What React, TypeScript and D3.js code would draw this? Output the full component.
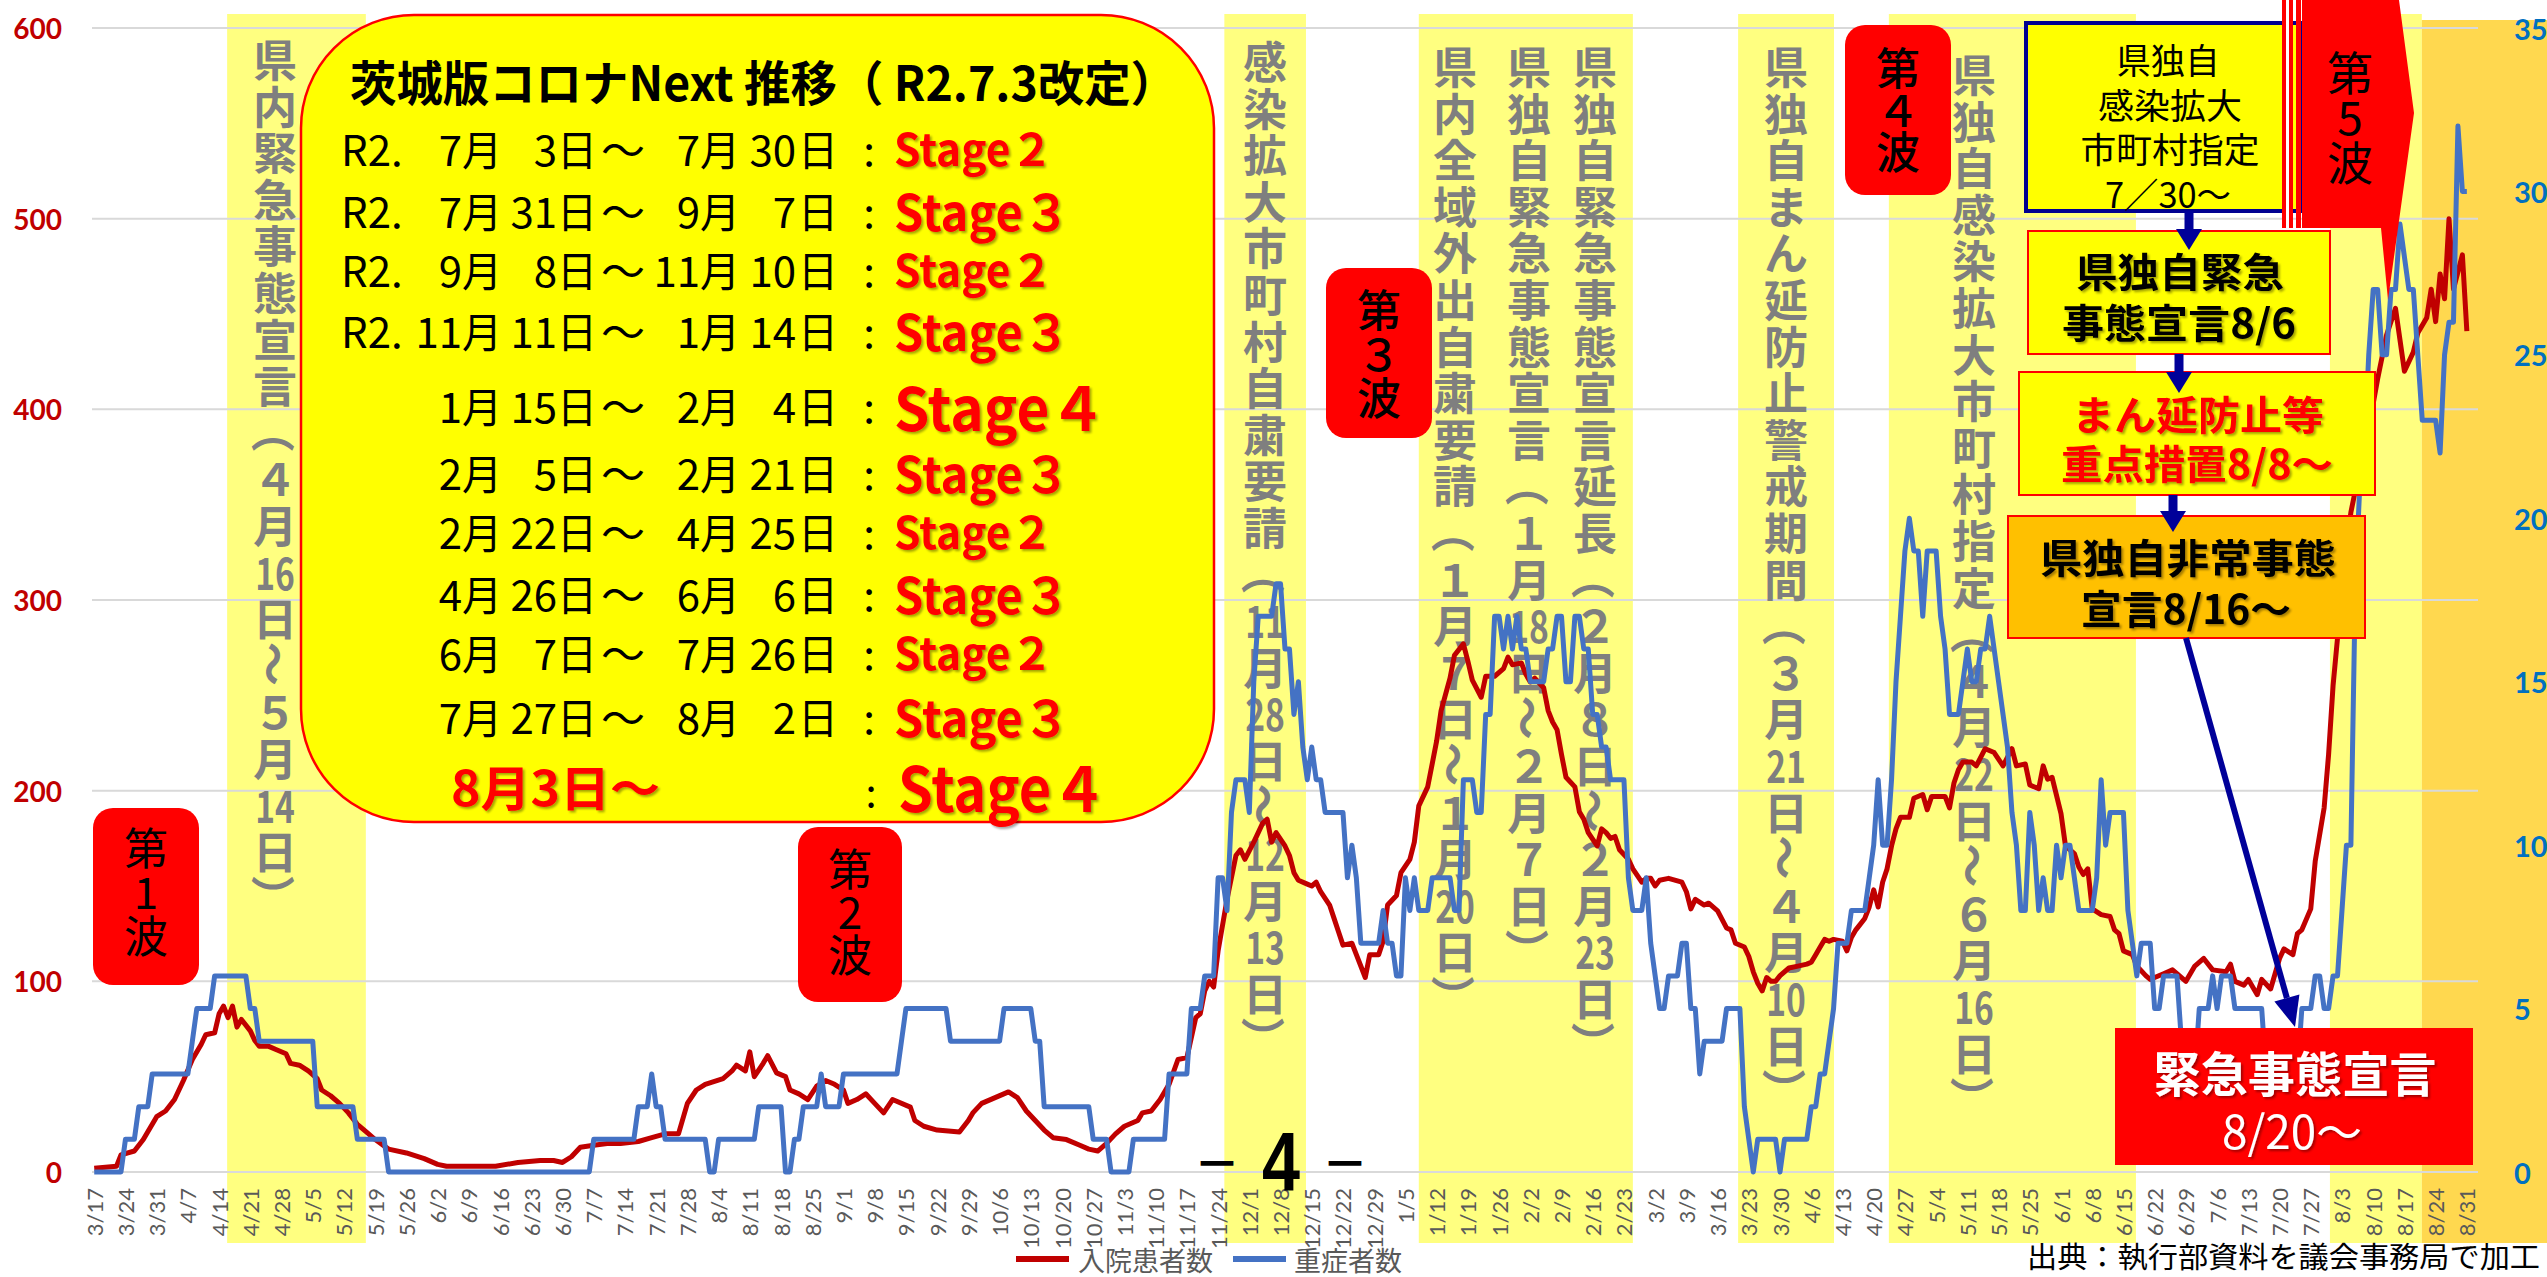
import React from 'react';
import * as d3 from 'd3';

// ---- data ----

const START = new Date(2020, 2, 17); // day 0
const LAST_DAY = 532; // 2021-08-31

// 入院患者数: [day since 2020-03-17, persons]
const hospitalized: [number, number][] = [
    [0, 2], [5, 3], [6, 9], [9, 11], [11, 17], [14, 29], [16, 32], [18, 38], [20, 48], [22, 59], [24, 67], [25, 72],
    [27, 73], [28, 83], [29, 87], [30, 81], [31, 87], [32, 76], [33, 80], [35, 74], [36, 69], [37, 66], [39, 66],
    [41, 64], [43, 62], [44, 57], [46, 56], [48, 53], [50, 49], [51, 43], [53, 40], [55, 36], [57, 31], [59, 25],
    [61, 21], [63, 17], [66, 12], [70, 10], [74, 7], [77, 4], [79, 3], [90, 3], [95, 5], [100, 6], [103, 6], [105, 5],
    [107, 8], [109, 13], [112, 14], [115, 15], [118, 15], [122, 16], [125, 18], [128, 20], [131, 20], [133, 36],
    [135, 43], [137, 46], [141, 49], [143, 53], [144, 56], [146, 53], [147, 63], [148, 50], [150, 57], [151, 61],
    [153, 52], [155, 50], [156, 43], [158, 41], [160, 38], [162, 45], [164, 48], [166, 46], [168, 43], [169, 36],
    [171, 38], [173, 41], [175, 36], [177, 31], [179, 38], [183, 34], [184, 27], [186, 24], [189, 22], [194, 21],
    [196, 27], [197, 31], [199, 36], [202, 39], [205, 42], [207, 39], [209, 32], [211, 27], [213, 22], [215, 18],
    [218, 17], [221, 14], [223, 12], [225, 11], [227, 15], [229, 20], [231, 24], [234, 27], [235, 31], [237, 32],
    [239, 38], [241, 46], [243, 59], [245, 60], [247, 81], [248, 83], [249, 95], [250, 100], [251, 97], [252, 116],
    [254, 143], [256, 166], [257, 169], [258, 164], [260, 173], [262, 183], [263, 185], [264, 173], [265, 178],
    [267, 171], [268, 166], [269, 157], [270, 153], [272, 151], [273, 150], [274, 152], [275, 147], [277, 140],
    [278, 133], [279, 126], [280, 119], [282, 120], [283, 114], [285, 102], [286, 114], [288, 114], [289, 121],
    [290, 140], [292, 145], [293, 157], [295, 164], [296, 173], [297, 192], [299, 202], [301, 226], [302, 242],
    [304, 259], [305, 271], [307, 277], [308, 268], [309, 258], [311, 249], [312, 260], [314, 260], [316, 264],
    [317, 270], [318, 266], [320, 267], [321, 261], [322, 257], [323, 259], [325, 254], [326, 242], [327, 236],
    [328, 232], [329, 219], [330, 207], [332, 202], [333, 189], [334, 185], [335, 178], [337, 171], [338, 180],
    [339, 178], [340, 175], [341, 176], [342, 169], [344, 164], [345, 159], [347, 152], [348, 154], [349, 154],
    [350, 150], [351, 153], [353, 154], [356, 152], [357, 147], [358, 138], [359, 143], [361, 140], [362, 141],
    [364, 137], [366, 128], [367, 127], [368, 120], [370, 118], [371, 113], [372, 105], [373, 99], [374, 95],
    [375, 102], [376, 100], [377, 100], [378, 103], [380, 107], [382, 108], [384, 109], [385, 110], [386, 114],
    [387, 118], [388, 122], [389, 121], [390, 122], [392, 121], [393, 116], [394, 123], [395, 127], [397, 133],
    [398, 139], [399, 148], [400, 139], [401, 152], [402, 159], [403, 171], [404, 180], [405, 186], [407, 186],
    [408, 196], [410, 198], [411, 190], [412, 197], [414, 197], [415, 197], [416, 191], [417, 204], [418, 211],
    [419, 215], [421, 215], [422, 213], [424, 222], [426, 220], [428, 213], [430, 222], [431, 213], [433, 214],
    [434, 203], [436, 201], [437, 213], [438, 206], [439, 207], [441, 188], [442, 171], [444, 167], [445, 160],
    [446, 156], [447, 159], [448, 138], [450, 135], [452, 134], [453, 127], [454, 125], [455, 116], [457, 114],
    [458, 108], [460, 103], [461, 101], [462, 102], [464, 104], [466, 106], [467, 104], [469, 100], [471, 108],
    [473, 112], [475, 106], [478, 105], [479, 109], [480, 100], [482, 98], [483, 101], [485, 93], [486, 101],
    [488, 96], [490, 112], [491, 117], [493, 114], [494, 125], [495, 127], [497, 138], [498, 163], [500, 191],
    [501, 219], [502, 255], [503, 280], [504, 310], [506, 346], [508, 369], [510, 390], [512, 416], [514, 439],
    [516, 453], [518, 420], [520, 430], [521, 440], [523, 448], [524, 463], [525, 446], [526, 471], [527, 458],
    [528, 500], [529, 463], [531, 481], [532, 441],
];

// 重症者数: runs of [first day, persons], each held until the next entry
const severeRuns: [number, number][] = [
    [0, 0], [7, 1], [10, 2], [13, 3], [22, 4], [23, 5], [27, 6], [35, 5], [37, 4], [50, 2], [59, 1], [66, 0],
    [112, 1], [122, 2], [125, 3], [126, 2], [128, 1], [138, 0], [140, 1], [149, 2], [155, 0], [157, 1], [159, 2],
    [163, 3], [164, 2], [168, 3], [181, 4], [182, 5], [192, 4], [204, 5], [211, 4], [213, 2], [224, 1], [228, 0],
    [233, 1], [241, 3], [246, 5], [249, 6], [252, 9], [254, 8], [255, 11], [256, 12], [259, 11], [260, 15],
    [261, 17], [265, 18], [267, 16], [269, 14], [270, 15], [271, 13], [272, 12], [273, 13], [274, 12], [276, 11],
    [281, 9], [282, 10], [283, 9], [284, 7], [289, 8], [290, 7], [292, 6], [294, 9], [295, 8], [296, 9], [297, 8],
    [300, 9], [305, 8], [307, 12], [310, 11], [312, 14], [314, 17], [316, 16], [317, 17], [318, 16], [319, 17],
    [320, 16], [322, 15], [326, 16], [328, 17], [330, 15], [332, 17], [334, 16], [336, 14], [338, 13], [340, 12],
    [344, 9], [345, 8], [348, 9], [349, 7], [350, 6], [351, 5], [353, 6], [356, 7], [358, 5], [360, 3], [361, 4],
    [366, 5], [370, 2], [371, 1], [372, 0], [373, 1], [378, 0], [379, 1], [385, 2], [387, 3], [389, 4], [390, 5],
    [391, 7], [394, 8], [398, 9], [399, 10], [400, 12], [401, 10], [403, 12], [404, 15], [405, 17], [406, 19],
    [407, 20], [408, 19], [410, 17], [411, 19], [414, 17], [415, 16], [416, 14], [419, 15], [420, 16], [421, 15],
    [423, 16], [425, 17], [426, 16], [427, 15], [428, 14], [429, 13], [430, 11], [431, 10], [432, 8], [434, 11],
    [435, 10], [436, 8], [437, 9], [438, 8], [440, 10], [441, 9], [442, 10], [444, 9], [445, 8], [449, 9],
    [450, 12], [451, 10], [452, 11], [456, 8], [457, 7], [458, 6], [459, 7], [462, 5], [464, 6], [468, 4],
    [469, 3], [472, 5], [475, 6], [476, 5], [477, 6], [480, 5], [487, 3], [495, 5], [498, 6], [500, 5], [502, 6],
    [504, 8], [505, 10], [507, 18], [508, 21], [509, 22], [510, 25], [511, 27], [513, 25], [515, 27], [517, 29],
    [518, 28], [519, 27], [521, 25], [522, 23], [526, 22], [527, 25], [528, 26], [530, 32], [531, 30],
];

const leftTicks = [0, 100, 200, 300, 400, 500, 600];
const rightTicks = [0, 5, 10, 15, 20, 25, 30, 35];
const labelDays = d3.range(0, LAST_DAY + 1, 7);

// shaded periods [from day, to day]
const lightBands: [number, number][] = [
    [29.8, 60.9], [253.4, 271.7], [297, 345], [368.6, 390.1], [402.4, 457.8], [501.3, 521.9],
];
const goldBandFrom = 521.9;

// Stage table
const stageTitle = '茨城版コロナNext 推移（ R2.7.3改定）';
const stageRows = [
    { pre: 'R2.', sm: '7', sd: '3', em: '7', ed: '30', st: '２' },
    { pre: 'R2.', sm: '7', sd: '31', em: '9', ed: '7', st: '３' },
    { pre: 'R2.', sm: '9', sd: '8', em: '11', ed: '10', st: '２' },
    { pre: 'R2.', sm: '11', sd: '11', em: '1', ed: '14', st: '３' },
    { pre: '', sm: '1', sd: '15', em: '2', ed: '4', st: '４' },
    { pre: '', sm: '2', sd: '5', em: '2', ed: '21', st: '３' },
    { pre: '', sm: '2', sd: '22', em: '4', ed: '25', st: '２' },
    { pre: '', sm: '4', sd: '26', em: '6', ed: '6', st: '３' },
    { pre: '', sm: '6', sd: '7', em: '7', ed: '26', st: '２' },
    { pre: '', sm: '7', sd: '27', em: '8', ed: '2', st: '３' },
];
const stageLast = { date: '8月3日～', st: '４' };

// vertical notes
const notes = [
    { x: 275, y0: 58, text: '県内緊急事態宣言（４月16日～５月14日）' },
    { x: 1265, y0: 60, text: '感染拡大市町村自粛要請（11月28日～12月13日）' },
    { x: 1455, y0: 65, text: '県内全域外出自粛要請（１月７日～１月20日）' },
    { x: 1529, y0: 65, text: '県独自緊急事態宣言（１月18日～２月７日）' },
    { x: 1595, y0: 65, text: '県独自緊急事態宣言延長（２月８日～２月23日）' },
    { x: 1786, y0: 65, text: '県独自まん延防止警戒期間（３月21日～４月10日）' },
    { x: 1974, y0: 73, text: '県独自感染拡大市町村指定（４月22日～６月16日）' },
];

const waves = [
    { text: '第1波', x: 93, y: 808, w: 106, h: 177, ty: 846, step: 44 },
    { text: '第2波', x: 798, y: 827, w: 104, h: 175, ty: 867, step: 43 },
    { text: '第３波', x: 1326, y: 268, w: 106, h: 170, ty: 308, step: 44 },
    { text: '第４波', x: 1845, y: 25, w: 106, h: 170, ty: 66, step: 42 },
];

// ---- layout ----

const W = 2547;
const H = 1277;
const FONT = '"Noto Sans CJK JP", "Noto Sans", sans-serif';
const LATIN = 'Lato, "Noto Sans", sans-serif';

const x = d3.scaleLinear().domain([-0.5, 534.5]).range([92, 2478]);
const yL = d3.scaleLinear().domain([0, 600]).range([1172, 28]);
const yR = d3.scaleLinear().domain([0, 35]).range([1172, 28]);

const fmt = d3.timeFormat('%-m/%-d');

function expandRuns(runs: [number, number][], last: number): [number, number][] {
    const out: [number, number][] = [];
    runs.forEach(([d, v], i) => {
        const end = i + 1 < runs.length ? runs[i + 1][0] : last + 1;
        for (let k = d; k < end; k++) out.push([k, v]);
    });
    return out;
}

const severe = expandRuns(severeRuns, LAST_DAY);

function VText({ x, y0, text, step = 46.6, size = 44, fill = '#7F7F7F', weight = 700 }:
    { x: number; y0: number; text: string; step?: number; size?: number; fill?: string; weight?: number }) {
    const toks = text.match(/[0-9]{2}|./gu) ?? [];
    return (
        <g fill={fill} fontSize={size} fontWeight={weight} fontFamily={FONT} textAnchor="middle" dominantBaseline="central">
            {toks.map((t, i) => {
                const y = y0 + i * step;
                if (/^[0-9]{2}$/.test(t)) {
                    return <text key={i} x={x} y={y} textLength={size * 0.9} lengthAdjust="spacingAndGlyphs">{t}</text>;
                }
                if ('（）～'.includes(t)) {
                    return <text key={i} x={x} y={y} transform={`rotate(90 ${x} ${y})`}>{t}</text>;
                }
                return <text key={i} x={x} y={y}>{t}</text>;
            })}
        </g>
    );
}

function StageTable() {
    const rowY = [147, 209, 268, 329, 404, 471, 530, 592, 651, 715];
    const stSize: Record<string, number> = { '２': 44, '３': 50, '４': 60 };
    const stLen: Record<string, number> = { '２': 159, '３': 176, '４': 212 };
    return (
        <g fontFamily={FONT} dominantBaseline="central">
            <rect x={301} y={15} width={913} height={807} rx={113} fill="#FFFF00" stroke="#FF0000" strokeWidth={2.5} />
            <text x={350} y={80} fontSize={48} fontWeight={700} textLength={827} lengthAdjust="spacingAndGlyphs">{stageTitle}</text>
            {stageRows.map((r, i) => {
                const cy = rowY[i];
                return (
                    <g key={i} fontSize={42} fill="#000">
                        {r.pre && <text x={341} y={cy}>{r.pre}</text>}
                        <text x={462} y={cy} textAnchor="end">{r.sm}</text>
                        <text x={462} y={cy} textLength={40} lengthAdjust="spacingAndGlyphs">月</text>
                        <text x={557} y={cy} textAnchor="end">{r.sd}</text>
                        <text x={557} y={cy} textLength={40} lengthAdjust="spacingAndGlyphs">日</text>
                        <text x={601} y={cy} textLength={44} lengthAdjust="spacingAndGlyphs">～</text>
                        <text x={700} y={cy} textAnchor="end">{r.em}</text>
                        <text x={700} y={cy} textLength={40} lengthAdjust="spacingAndGlyphs">月</text>
                        <text x={796} y={cy} textAnchor="end">{r.ed}</text>
                        <text x={798} y={cy} textLength={40} lengthAdjust="spacingAndGlyphs">日</text>
                        <text x={869} y={cy} textAnchor="middle">:</text>
                        <text x={894} y={cy} fill="#FF0000" fontWeight={700} fontSize={stSize[r.st]} filter="url(#shadow)"
                            textLength={stLen[r.st]} lengthAdjust="spacingAndGlyphs">{'Stage' + r.st}</text>
                    </g>
                );
            })}
            <text x={451} y={785} fill="#FF0000" fontWeight={700} fontSize={48} filter="url(#shadow)"
                textLength={209} lengthAdjust="spacingAndGlyphs">{stageLast.date}</text>
            <text x={871} y={790} fontSize={40} textAnchor="middle">:</text>
            <text x={898} y={785} fill="#FF0000" fontWeight={700} fontSize={62} filter="url(#shadow)"
                textLength={209} lengthAdjust="spacingAndGlyphs">{'Stage' + stageLast.st}</text>
        </g>
    );
}

function DownArrow({ cx, y1, y2 }: { cx: number; y1: number; y2: number }) {
    return (
        <g fill="#000099">
            <rect x={cx - 4.5} y={y1} width={9} height={y2 - y1 - 18} />
            <path d={`M${cx - 13},${y2 - 21} L${cx + 13},${y2 - 21} L${cx},${y2} Z`} />
        </g>
    );
}

function RightNotes() {
    // long arrow geometry
    const ax1 = 2186, ay1 = 638, ax2 = 2295, ay2 = 1027;
    const len = Math.hypot(ax2 - ax1, ay2 - ay1);
    const ux = (ax2 - ax1) / len, uy = (ay2 - ay1) / len;
    const bx = ax2 - 30 * ux, by = ay2 - 30 * uy;
    const px = -uy * 13, py = ux * 13;
    return (
        <g fontFamily={FONT} textAnchor="middle" dominantBaseline="central">
            {/* box A */}
            <rect x={2026} y={23} width={276} height={188} fill="#FFFF00" stroke="#000090" strokeWidth={4} />
            <g fontSize={35} fill="#000">
                <text x={2168} y={58} textLength={103} lengthAdjust="spacingAndGlyphs">県独自</text>
                <text x={2170} y={103} textLength={144} lengthAdjust="spacingAndGlyphs">感染拡大</text>
                <text x={2170} y={147} textLength={179} lengthAdjust="spacingAndGlyphs">市町村指定</text>
                <text x={2168} y={192} textLength={126} lengthAdjust="spacingAndGlyphs">7／30～</text>
            </g>
            {/* red double lines */}
            <rect x={2282} y={0} width={4} height={228} fill="#FF0000" />
            <rect x={2286} y={0} width={3} height={228} fill="#FFFFFF" />
            <rect x={2289} y={0} width={4} height={228} fill="#FF0000" />
            <rect x={2296} y={0} width={5} height={228} fill="#FF0000" />
            {/* 第5波 arrow */}
            <path d="M2302,0 L2399,0 L2414,113 L2388,300 L2381,228 L2302,228 Z" fill="#FF0000" />
            <VText x={2350} y0={70} step={45} text="第5波" size={46} fill="#000" weight={400} />
            {/* box B */}
            <rect x={2028} y={231} width={302} height={123} fill="#FFFF00" stroke="#FF0000" strokeWidth={2} />
            <g fontSize={40} fontWeight={700} fill="#000" filter="url(#shadow)">
                <text x={2180} y={270} textLength={208} lengthAdjust="spacingAndGlyphs">県独自緊急</text>
                <text x={2179} y={321} textLength={234} lengthAdjust="spacingAndGlyphs">事態宣言8/6</text>
            </g>
            {/* box C */}
            <rect x={2019} y={372} width={356} height={123} fill="#FFFF00" stroke="#FF0000" strokeWidth={2} />
            <g fontSize={40} fontWeight={700} fill="#FF0000" filter="url(#shadow)">
                <text x={2198} y={413} textLength={252} lengthAdjust="spacingAndGlyphs">まん延防止等</text>
                <text x={2197} y={462} textLength={272} lengthAdjust="spacingAndGlyphs">重点措置8/8～</text>
            </g>
            {/* box D */}
            <rect x={2008} y={516} width={357} height={122} fill="#FFC000" stroke="#FF0000" strokeWidth={2} />
            <g fontSize={40} fontWeight={700} fill="#000" filter="url(#shadow)">
                <text x={2188} y={556} textLength={296} lengthAdjust="spacingAndGlyphs">県独自非常事態</text>
                <text x={2186} y={607} textLength={210} lengthAdjust="spacingAndGlyphs">宣言8/16～</text>
            </g>
            <DownArrow cx={2189} y1={211} y2={250} />
            <DownArrow cx={2179} y1={354} y2={393} />
            <DownArrow cx={2173} y1={495} y2={532} />
            {/* long arrow */}
            <line x1={ax1} y1={ay1} x2={bx} y2={by} stroke="#000099" strokeWidth={6} />
            <path d={`M${bx + px},${by + py} L${bx - px},${by - py} L${ax2},${ay2} Z`} fill="#000099" />
            {/* box E */}
            <rect x={2115} y={1028} width={358} height={137} fill="#FF0000" />
            <g filter="url(#shadow)">
                <text x={2295} y={1071} fontSize={48} fontWeight={700} fill="#fff" textLength={283} lengthAdjust="spacingAndGlyphs">緊急事態宣言</text>
                <text x={2292} y={1129} fontSize={46} fill="#fff" textLength={140} lengthAdjust="spacingAndGlyphs">8/20～</text>
            </g>
        </g>
    );
}

function App() {
    const redLine = d3.line<[number, number]>().x((d) => x(d[0])).y((d) => yL(d[1]));
    const blueLine = d3.line<[number, number]>().x((d) => x(d[0])).y((d) => yR(d[1]));

    return (
        <div style={{ position: 'absolute', left: 0, top: 0, width: W, height: H, background: '#fff' }}>
            <svg width={W} height={H} viewBox={`0 0 ${W} ${H}`}>
                <defs>
                    <filter id="shadow" x="-10%" y="-20%" width="130%" height="150%">
                        <feDropShadow dx={2} dy={2} stdDeviation={1.2} floodColor="#000" floodOpacity={0.35} />
                    </filter>
                </defs>
                <rect width={W} height={H} fill="#fff" />

                {/* bands */}
                {lightBands.map(([a, b], i) => (
                    <rect key={i} x={x(a)} y={14} width={x(b) - x(a)} height={1243 - 14} fill="#FFFF80" />
                ))}
                <rect x={x(goldBandFrom)} y={20} width={W - x(goldBandFrom)} height={1243 - 20} fill="#FFD84F" />

                {/* gridlines */}
                {leftTicks.map((t) => (
                    <line key={t} x1={92} x2={2478} y1={yL(t)} y2={yL(t)} stroke="#D9D9D9" strokeWidth={2} />
                ))}

                {/* left axis */}
                <g fontFamily={LATIN} fontWeight={700} fontSize={28} fill="#C00000" textAnchor="end" dominantBaseline="central">
                    {leftTicks.map((t) => <text key={t} x={62} y={yL(t)}>{t}</text>)}
                </g>
                {/* right axis */}
                <g fontFamily={LATIN} fontWeight={700} fontSize={29} fill="#0070C0" dominantBaseline="central">
                    {rightTicks.map((t) => <text key={t} x={2514} y={yR(t)}>{t}</text>)}
                </g>
                {/* x axis labels */}
                <g fontFamily={LATIN} fontSize={22} fill="#595959" textAnchor="end" dominantBaseline="central">
                    {labelDays.map((d) => (
                        <text key={d} x={x(d)} y={1188} transform={`rotate(-90 ${x(d)} 1188)`}>
                            {fmt(d3.timeDay.offset(START, d))}
                        </text>
                    ))}
                </g>

                {/* vertical notes */}
                {notes.map((n, i) => <VText key={i} x={n.x} y0={n.y0} text={n.text} />)}

                {/* series */}
                <path d={redLine(hospitalized) ?? ''} fill="none" stroke="#C00000" strokeWidth={5} strokeLinejoin="round" />
                <path d={blueLine(severe) ?? ''} fill="none" stroke="#4472C4" strokeWidth={5} strokeLinejoin="round" />

                <StageTable />

                {/* wave tags */}
                {waves.map((w, i) => (
                    <g key={i}>
                        <rect x={w.x} y={w.y} width={w.w} height={w.h} rx={20} fill="#FF0000" />
                        <VText x={w.x + w.w / 2} y0={w.ty} step={w.step} text={w.text} size={44} fill="#000" weight={i >= 2 ? 500 : 400} />
                    </g>
                ))}

                <RightNotes />

                {/* page number */}
                <g fontFamily={FONT} fill="#000" dominantBaseline="central" textAnchor="middle">
                    <text x={1217} y={1160} fontSize={46} fontWeight={700}>－</text>
                    <text x={1281} y={1162} fontSize={84} fontWeight={700} fontFamily='"Liberation Sans", sans-serif'
                        textLength={38} lengthAdjust="spacingAndGlyphs">4</text>
                    <text x={1345} y={1160} fontSize={46} fontWeight={700}>－</text>
                </g>

                {/* legend */}
                <g fontFamily={FONT} fontSize={27} fill="#595959" dominantBaseline="central">
                    <line x1={1016} x2={1069} y1={1259} y2={1259} stroke="#C00000" strokeWidth={6} />
                    <text x={1078} y={1259}>入院患者数</text>
                    <line x1={1233} x2={1286} y1={1259} y2={1259} stroke="#4472C4" strokeWidth={6} />
                    <text x={1294} y={1259}>重症者数</text>
                </g>
                <text x={2027} y={1255} fontFamily={FONT} fontSize={29} fill="#000" dominantBaseline="central"
                    textLength={513} lengthAdjust="spacingAndGlyphs">出典：執行部資料を議会事務局で加工</text>
            </svg>
        </div>
    );
}

export default App;
